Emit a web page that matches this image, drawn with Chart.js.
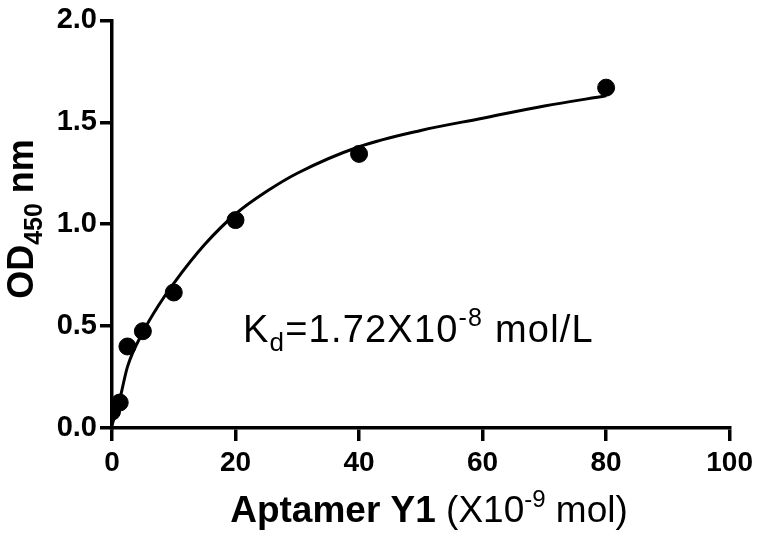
<!DOCTYPE html>
<html>
<head>
<meta charset="utf-8">
<script src="https://cdn.jsdelivr.net/npm/chart.js@4"></script>
<style>
html,body{margin:0;padding:0;background:#fff;}
#wrap{width:758px;height:541px;position:relative;}
</style>
</head>
<body>
<div id="wrap"><canvas id="c" width="758" height="541"></canvas></div>
<script>
// Measured data points
const concX = [0, 1.25, 2.5, 5, 10, 20, 40, 80];
const odY   = [0.08, 0.125, 0.40, 0.475, 0.665, 1.02, 1.345, 1.67];
// Fitted curve
const fitX = [0, 1.25, 2.5, 5, 7.5, 10, 15, 20, 25, 30, 40, 50, 60, 70, 80];
const fitY = [0.015, 0.14, 0.30, 0.47, 0.60, 0.71, 0.90, 1.05, 1.16, 1.25, 1.38, 1.46, 1.52, 1.58, 1.63];
// Axis ticks
const xTicks = [0, 20, 40, 60, 80, 100];
const yTicks = [0.0, 0.5, 1.0, 1.5, 2.0];

const FONT = "'Liberation Sans', Arial, sans-serif";

const textPlugin = {
  id: 'texts',
  afterDraw(chart) {
    const ctx = chart.ctx;
    ctx.save();
    ctx.fillStyle = '#000';
    ctx.textBaseline = 'alphabetic';
    function runs(parts, x, y) {
      let cx = x;
      for (const p of parts) {
        ctx.font = p.f;
        ctx.fillText(p.t, cx, y + (p.dy || 0));
        cx += ctx.measureText(p.t).width;
      }
      return cx;
    }
    function width(parts) {
      let w = 0;
      for (const p of parts) { ctx.font = p.f; w += ctx.measureText(p.t).width; }
      return w;
    }
    // X title
    const xParts = [
      {t: 'Aptamer Y1 ', f: 'bold 37px ' + FONT},
      {t: '(X10', f: '37px ' + FONT},
      {t: '-9', f: '24px ' + FONT, dy: -15},
      {t: ' mol)', f: '37px ' + FONT}
    ];
    const xw = width(xParts);
    runs(xParts, 429 - xw / 2, 522);
    // Y title (rotated)
    const yParts = [
      {t: 'OD', f: 'bold 36px ' + FONT},
      {t: '450', f: 'bold 25px ' + FONT, dy: 9},
      {t: ' nm', f: 'bold 36px ' + FONT}
    ];
    ctx.save();
    ctx.translate(33, 219);
    ctx.rotate(-Math.PI / 2);
    const yw = width(yParts);
    runs(yParts, -yw / 2, 0);
    ctx.restore();
    // Kd annotation
    if ('letterSpacing' in ctx) ctx.letterSpacing = '1.2px';
    const kParts = [
      {t: 'K', f: '38px ' + FONT},
      {t: 'd', f: '26px ' + FONT, dy: 9},
      {t: '=1.72X10', f: '38px ' + FONT},
      {t: '-8', f: '25px ' + FONT, dy: -16},
      {t: ' mol/L', f: '38px ' + FONT}
    ];
    runs(kParts, 243, 342);
    ctx.restore();
  }
};

new Chart(document.getElementById('c'), {
  type: 'scatter',
  data: {
    datasets: [
      {
        label: 'fit',
        data: fitX.map((x, i) => ({x, y: fitY[i]})),
        showLine: true,
        borderColor: '#000',
        borderWidth: 3,
        pointRadius: 0,
        cubicInterpolationMode: 'monotone',
        order: 2
      },
      {
        label: 'data',
        data: concX.map((x, i) => ({x, y: odY[i]})),
        backgroundColor: '#000',
        borderColor: '#000',
        pointRadius: 8.5,
        pointHoverRadius: 8.5,
        order: 1
      }
    ]
  },
  options: {
    responsive: false,
    animation: false,
    events: [],
    layout: {padding: {left: 0, right: 28, top: 15, bottom: 0}},
    plugins: {legend: {display: false}, tooltip: {enabled: false}},
    scales: {
      x: {
        type: 'linear',
        min: 0, max: 100,
        afterBuildTicks(s) { s.ticks = xTicks.map(v => ({value: v})); },
        afterFit(s) { s.height = 113; },
        border: {color: '#000', width: 3.5},
        grid: {drawOnChartArea: false, color: '#000', lineWidth: 3.5, tickLength: 13},
        ticks: {color: '#000', padding: 5, maxRotation: 0, font: {family: FONT, size: 28, weight: 'bold'}}
      },
      y: {
        type: 'linear',
        min: 0, max: 2,
        afterBuildTicks(s) { s.ticks = yTicks.map(v => ({value: v})); },
        afterFit(s) { s.width = 112; },
        border: {color: '#000', width: 3.5},
        grid: {drawOnChartArea: false, color: '#000', lineWidth: 3.5, tickLength: 12},
        ticks: {color: '#000', padding: 3, font: {family: FONT, size: 29, weight: 'bold'},
          callback: v => Number(v).toFixed(1)}
      }
    }
  },
  plugins: [textPlugin]
});
</script>
</body>
</html>
